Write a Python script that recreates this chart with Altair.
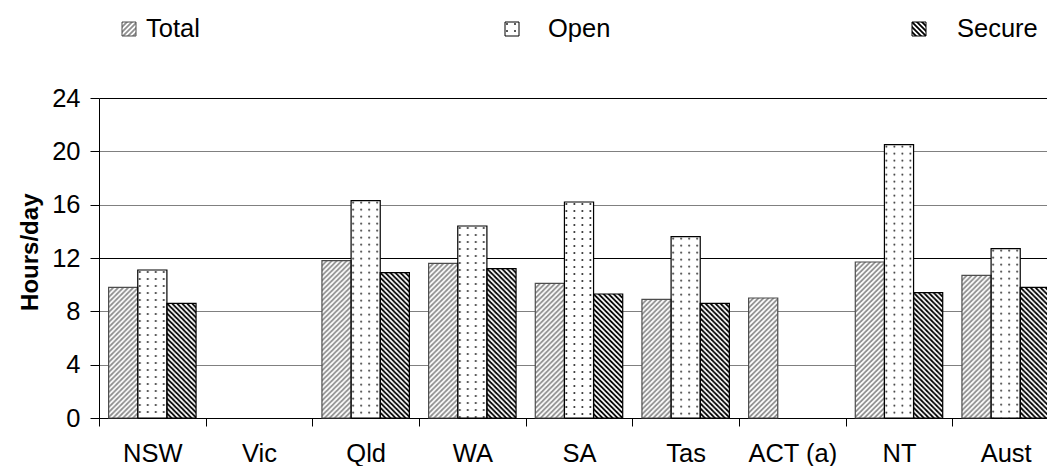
import urllib.parse

import altair as alt
import pandas as pd

# Average hours per day by jurisdiction
categories = ["NSW", "Vic", "Qld", "WA", "SA", "Tas", "ACT (a)", "NT", "Aust"]
series = ["Total", "Open", "Secure"]
total = [9.8, None, 11.8, 11.6, 10.1, 8.9, 9.0, 11.7, 10.7]
open_ = [11.1, None, 16.3, 14.4, 16.2, 13.6, None, 20.5, 12.7]
secure = [8.6, None, 10.9, 11.2, 9.3, 8.6, None, 9.4, 9.8]
y_ticks = [0, 4, 8, 12, 16, 20, 24]

rows = []
for name, vals in zip(series, [total, open_, secure]):
    for cat, v in zip(categories, vals):
        if v is not None:
            rows.append({"jurisdiction": cat, "series": name, "hours": v})
df = pd.DataFrame(rows)

FONT = "Liberation Sans"


def tile(body, w, h):
    """SVG texture drawn at native pixel size inside whatever box it is given."""
    svg = (
        '<svg xmlns="http://www.w3.org/2000/svg" width="100%" height="100%">'
        f'<defs><pattern id="p" patternUnits="userSpaceOnUse" width="{w}" height="{h}">'
        f"{body}</pattern></defs>"
        '<rect width="100%" height="100%" fill="#ffffff"/>'
        '<rect width="100%" height="100%" fill="url(#p)"/></svg>'
    )
    return "data:image/svg+xml;charset=utf-8," + urllib.parse.quote(svg)


textures = {
    "Total": tile('<path d="M-1,1 L1,-1 M0,5 L5,0 M4,6 L6,4" stroke="#8f8f8f" stroke-width="1.8"/>', 5, 5),
    "Open": tile('<circle cx="2" cy="2" r="1" fill="#222222"/>', 8, 7),
    "Secure": tile('<path d="M-1,4 L1,6 M0,0 L5,5 M4,-1 L6,1" stroke="#000000" stroke-width="1.8"/>', 5, 5),
}
solid = ["#c4c4c4", "#f4f4f4", "#6a6a6a"]
edges = ["#4d4d4d", "#000000", "#000000"]

x_enc = alt.X(
    "jurisdiction:N",
    sort=categories,
    scale=alt.Scale(domain=categories, range=[0, 960], paddingInner=0, paddingOuter=0),
    axis=alt.Axis(
        title=None,
        labelAngle=0,
        tickBand="extent",
        tickSize=8,
        labelPadding=15,
        labelFont=FONT,
        labelFontSize=25.5,
        labelColor="#000000",
        domainColor="#000000",
        tickColor="#000000",
        grid=False,
    ),
)
xo_enc = alt.XOffset(
    "series:N", sort=series, scale=alt.Scale(domain=series, paddingInner=0, paddingOuter=0.33)
)
y_enc = alt.Y(
    "hours:Q",
    scale=alt.Scale(domain=[0, 24], nice=False),
    axis=alt.Axis(
        values=y_ticks,
        title="Hours/day",
        titleFont=FONT,
        titleFontSize=24,
        titleFontWeight="bold",
        titleColor="#000000",
        titleX=-69,
        titleY=153.7,
        titleAlign="center",
        titleBaseline="middle",
        labelFont=FONT,
        labelFontSize=25.5,
        labelColor="#000000",
        labelPadding=10,
        tickSize=9,
        tickColor="#000000",
        domainColor="#000000",
        gridColor={"condition": {"test": "datum.value % 12 === 0", "value": "#000000"}, "value": "#808080"},
        gridOpacity=1,
    ),
)

base = alt.Chart(df)

bars = base.mark_bar().encode(
    x=x_enc,
    xOffset=xo_enc,
    y=y_enc,
    color=alt.Color("series:N", scale=alt.Scale(domain=series, range=solid), legend=None),
)

texture_layers = [
    base.transform_filter(alt.datum.series == s)
    .mark_image(aspect=False)
    .encode(x=x_enc, xOffset=xo_enc, y=y_enc, y2=alt.datum(0), url=alt.value(textures[s]))
    for s in series
]

outlines = base.mark_bar(fillOpacity=0, strokeWidth=1.2).encode(
    x=x_enc,
    xOffset=xo_enc,
    y=y_enc,
    stroke=alt.Stroke("series:N", scale=alt.Scale(domain=series, range=edges), legend=None),
)

# Legend row above the plot (offsets relative to the plot origin)
legend_swatch_x = {"Total": 23, "Open": 406, "Secure": 813}
legend_text_x = {"Total": 47, "Open": 449, "Secure": 858}
legend_layers = []
for s, edge in zip(series, edges):
    ld = alt.Chart(pd.DataFrame({"series": [s]}))
    sx = legend_swatch_x[s]
    legend_layers.append(
        ld.mark_image(aspect=False).encode(
            x=alt.value(sx), x2=alt.value(sx + 14), y=alt.value(-76), y2=alt.value(-62),
            url=alt.value(textures[s]),
        )
    )
    legend_layers.append(
        ld.mark_rect(fillOpacity=0, stroke=edge, strokeWidth=1).encode(
            x=alt.value(sx), x2=alt.value(sx + 14), y=alt.value(-76), y2=alt.value(-62)
        )
    )
    legend_layers.append(
        ld.mark_text(align="left", baseline="middle", font=FONT, fontSize=25.5, color="#000000").encode(
            x=alt.value(legend_text_x[s]), y=alt.value(-69), text=alt.Text("series:N")
        )
    )

chart = (
    alt.layer(bars, *texture_layers, outlines, *legend_layers)
    .properties(
        width=948,
        height=320,
        autosize=alt.AutoSizeParams(type="none"),
        padding={"left": 99, "top": 98, "right": 0, "bottom": 48},
        background="#ffffff",
    )
    .configure_view(stroke="transparent")
)

chart.save("out.html", embed_options={"renderer": "svg", "actions": False})
